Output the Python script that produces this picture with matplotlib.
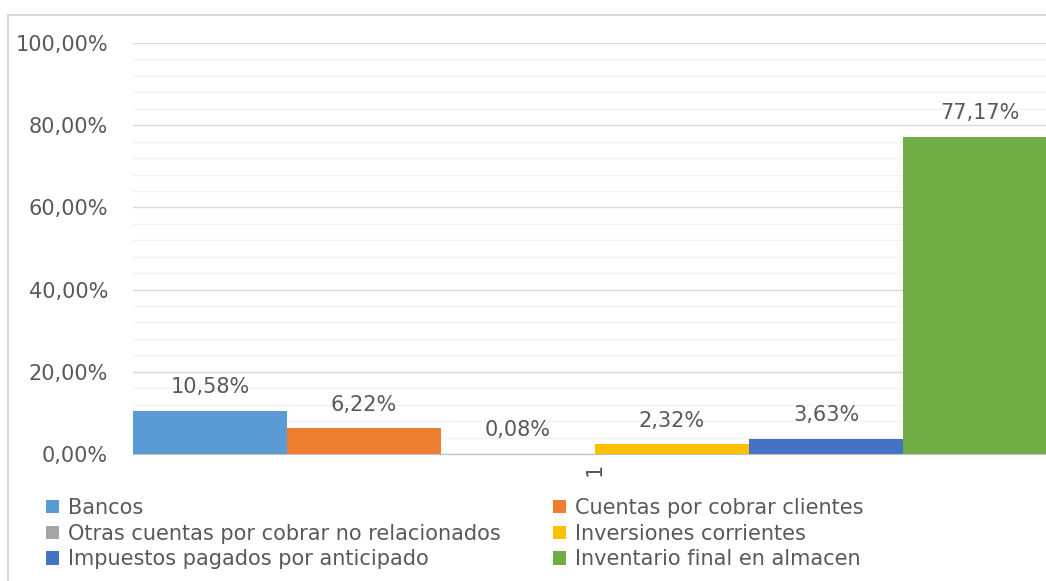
import matplotlib.pyplot as plt
from matplotlib.patches import Rectangle

# series (one category "1")
series = ['Bancos', 'Cuentas por cobrar clientes',
          'Otras cuentas por cobrar no relacionados', 'Inversiones corrientes',
          'Impuestos pagados por anticipado', 'Inventario final en almacen']
values = [10.58, 6.22, 0.08, 2.32, 3.63, 77.17]
colors = ['#5B9BD5', '#ED7D31', '#A5A5A5', '#FFC000', '#4472C4', '#70AD47']
category = ['1']
yticks = [0, 20, 40, 60, 80, 100]

W, H = 1046, 581
txt = '#595959'
fs = 15
plt.rcParams['font.family'] = ['DejaVu Sans']

fig = plt.figure(figsize=(W / 100, H / 100), dpi=100)
# chart border (cut off at right and bottom, like the screenshot)
fig.patches.append(Rectangle((8 / W, -0.1), 1.2, 1 - 15 / H + 0.1,
                             transform=fig.transFigure, fill=False,
                             edgecolor='#D9D9D9', linewidth=1.5))

ax = fig.add_axes([133 / W, 1 - 454 / H, (1057 - 133) / W, (454 - 43) / H])

n = len(values)
xs = [i - (n - 1) / 2 for i in range(n)]
bars = []
for x, v, c, name in zip(xs, values, colors, series):
    b = ax.bar(x, v, width=1.0, color=c, label=name, zorder=3)
    bars.append(b)
    ax.annotate(f'{v:.2f}%'.replace('.', ','), (x, v), xytext=(0, 10),
                textcoords='offset points', ha='center', va='bottom',
                fontsize=fs, color=txt)

ax.set_xlim(-n / 2, n / 2)
ax.set_ylim(0, 100)
ax.set_yticks(yticks)
ax.set_yticklabels([f'{t:.2f}%'.replace('.', ',') for t in yticks])
ax.set_yticks(range(0, 101, 4), minor=True)
ax.grid(axis='y', which='major', color='#D9D9D9', linewidth=1, zorder=0)
ax.grid(axis='y', which='minor', color='#F2F2F2', linewidth=1, zorder=0)
ax.set_xticks([0])
ax.set_xticklabels(category, rotation=90)
ax.tick_params(axis='both', which='both', length=0, labelsize=fs, labelcolor=txt)
ax.tick_params(axis='y', pad=18)
ax.tick_params(axis='x', pad=6)
for s in ['top', 'right', 'left']:
    ax.spines[s].set_visible(False)
ax.spines['bottom'].set_color('#BFBFBF')
ax.spines['bottom'].set_zorder(4)

leg_kw = dict(loc='upper left', frameon=False, fontsize=fs, labelcolor=txt,
              handlelength=0.6, handleheight=0.6, handletextpad=0.45,
              labelspacing=0.27, borderpad=0, borderaxespad=0)
fig.legend([bars[0], bars[2], bars[4]], [series[0], series[2], series[4]],
           bbox_to_anchor=(46 / W, 1 - 498 / H), **leg_kw)
fig.legend([bars[1], bars[3], bars[5]], [series[1], series[3], series[5]],
           bbox_to_anchor=(553 / W, 1 - 498 / H), **leg_kw)

fig.savefig('out.png', dpi=100)
